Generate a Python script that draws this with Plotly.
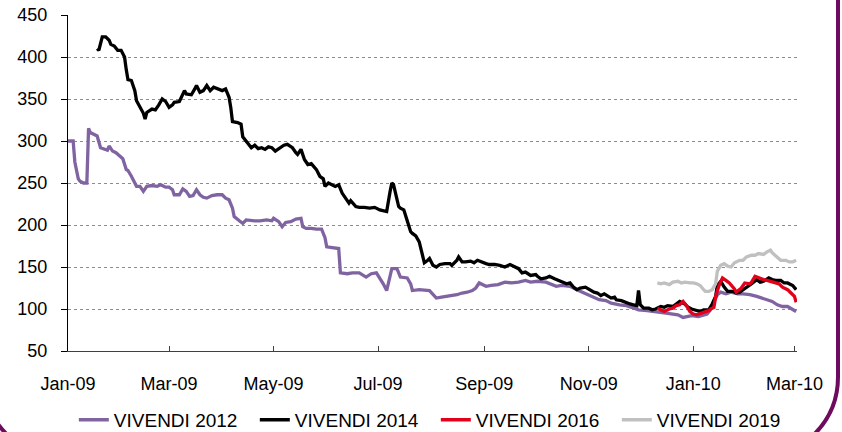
import plotly.graph_objects as go

# ---------------- data ----------------
dates_2012 = ["2009-01-01","2009-01-04","2009-01-05","2009-01-07","2009-01-08","2009-01-10","2009-01-12","2009-01-13",
              "2009-01-14","2009-01-17","2009-01-18","2009-01-20","2009-01-22","2009-01-24","2009-01-25","2009-01-27",
              "2009-01-29","2009-01-31","2009-02-02","2009-02-04","2009-02-05","2009-02-07","2009-02-09","2009-02-10",
              "2009-02-12","2009-02-14","2009-02-16","2009-02-19","2009-02-22","2009-02-24","2009-02-27","2009-03-01",
              "2009-03-03","2009-03-04","2009-03-07","2009-03-09","2009-03-11","2009-03-13","2009-03-15","2009-03-17",
              "2009-03-19","2009-03-21","2009-03-23","2009-03-26","2009-03-29","2009-04-01","2009-04-03","2009-04-05",
              "2009-04-07","2009-04-08","2009-04-11","2009-04-13","2009-04-15","2009-04-18","2009-04-20","2009-04-23",
              "2009-04-25","2009-04-27","2009-04-30","2009-05-01","2009-05-04","2009-05-06","2009-05-08","2009-05-11",
              "2009-05-14","2009-05-17","2009-05-18","2009-05-20","2009-05-23","2009-05-26","2009-05-29","2009-05-31",
              "2009-06-01","2009-06-05","2009-06-08","2009-06-09","2009-06-13","2009-06-16","2009-06-20","2009-06-24",
              "2009-06-27","2009-06-30","2009-07-02","2009-07-04","2009-07-06","2009-07-08","2009-07-09","2009-07-12",
              "2009-07-14","2009-07-18","2009-07-20","2009-07-21","2009-07-25","2009-07-31","2009-08-02","2009-08-04",
              "2009-08-07","2009-08-10","2009-08-13","2009-08-16","2009-08-19","2009-08-22","2009-08-25","2009-08-27",
              "2009-08-29","2009-09-01","2009-09-02","2009-09-05","2009-09-09","2009-09-13","2009-09-17","2009-09-21",
              "2009-09-25","2009-09-28","2009-10-02","2009-10-07","2009-10-10","2009-10-13","2009-10-16","2009-10-21",
              "2009-10-25","2009-10-28","2009-11-01","2009-11-04","2009-11-07","2009-11-11","2009-11-14","2009-11-19",
              "2009-11-23","2009-11-26","2009-11-30","2009-12-05","2009-12-08","2009-12-12","2009-12-16","2009-12-20",
              "2009-12-23","2009-12-26","2009-12-29","2009-12-31","2010-01-04","2010-01-06","2010-01-09","2010-01-11",
              "2010-01-13","2010-01-15","2010-01-17","2010-01-20","2010-01-23","2010-01-27","2010-01-30","2010-02-03",
              "2010-02-07","2010-02-10","2010-02-14","2010-02-16","2010-02-19","2010-02-22","2010-02-25","2010-02-27",
              "2010-03-02"]
values_2012 = [300,300,275,255,252,250,250,315,
               310,307,306,292,290,289,294,288,
               286,282,279,266,265,258,250,246,
               246,240,246,247,246,248,245,245,
               242,236,236,243,240,234,235,242,
               236,233,232,235,236,236,232,230,
               220,210,205,202,206,205,205,205,
               206,206,205,208,204,198,203,204,
               207,208,198,196,196,195,195,185,
               174,173,172,143,142,143,143,138,
               142,143,137,130,122,140,148,148,
               138,137,130,122,123,122,117,113,
               114,115,116,117,119,120,122,125,
               131,128,127,128,129,132,131,132,
               134,132,133,132,130,127,128,127,
               123,120,117,114,111,110,107,105,
               104,102,99,98,97,96,95,94,
               93,90,91,92,91,92,94,99,
               108,117,120,118,120,118,118,117,
               115,113,111,109,105,103,103,101,
               97]

dates_2014 = ["2009-01-18","2009-01-19","2009-01-21","2009-01-23","2009-01-25","2009-01-26","2009-01-28","2009-01-30",
              "2009-02-01","2009-02-03","2009-02-04","2009-02-05","2009-02-07","2009-02-09","2009-02-10","2009-02-12",
              "2009-02-14","2009-02-15","2009-02-16","2009-02-19","2009-02-21","2009-02-23","2009-02-25","2009-02-27",
              "2009-03-01","2009-03-03","2009-03-04","2009-03-07","2009-03-08","2009-03-10","2009-03-11","2009-03-14",
              "2009-03-16","2009-03-17","2009-03-19","2009-03-21","2009-03-23","2009-03-25","2009-03-27","2009-03-29",
              "2009-04-01","2009-04-03","2009-04-05","2009-04-06","2009-04-07","2009-04-10","2009-04-12","2009-04-13",
              "2009-04-15","2009-04-17","2009-04-18","2009-04-20","2009-04-22","2009-04-24","2009-04-26","2009-04-28",
              "2009-04-30","2009-05-02","2009-05-05","2009-05-07","2009-05-09","2009-05-12","2009-05-14","2009-05-15",
              "2009-05-17","2009-05-19","2009-05-21","2009-05-23","2009-05-26","2009-05-28","2009-05-30","2009-05-31",
              "2009-06-02","2009-06-04","2009-06-06","2009-06-08","2009-06-10","2009-06-12","2009-06-14","2009-06-15",
              "2009-06-18","2009-06-20","2009-06-23","2009-06-26","2009-06-29","2009-07-02","2009-07-05","2009-07-06",
              "2009-07-08","2009-07-09","2009-07-10","2009-07-12","2009-07-13","2009-07-14","2009-07-16","2009-07-18",
              "2009-07-20","2009-07-21","2009-07-23","2009-07-25","2009-07-26","2009-07-27","2009-07-28","2009-07-30",
              "2009-07-31","2009-08-02","2009-08-04","2009-08-06","2009-08-09","2009-08-12","2009-08-13","2009-08-16",
              "2009-08-17","2009-08-19","2009-08-21","2009-08-24","2009-08-26","2009-08-28","2009-08-30","2009-09-02",
              "2009-09-04","2009-09-07","2009-09-10","2009-09-13","2009-09-16","2009-09-19","2009-09-21","2009-09-23",
              "2009-09-25","2009-09-28","2009-10-01","2009-10-02","2009-10-04","2009-10-07","2009-10-09","2009-10-12",
              "2009-10-15","2009-10-17","2009-10-19","2009-10-21","2009-10-23","2009-10-25","2009-10-27","2009-10-30",
              "2009-11-02","2009-11-04","2009-11-06","2009-11-08","2009-11-10","2009-11-12","2009-11-14","2009-11-16",
              "2009-11-17","2009-11-20","2009-11-22","2009-11-25","2009-11-27","2009-11-29","2009-11-30","2009-12-01",
              "2009-12-03","2009-12-06","2009-12-08","2009-12-10","2009-12-13","2009-12-15","2009-12-17","2009-12-20",
              "2009-12-22","2009-12-24","2009-12-27","2009-12-29","2009-12-31","2010-01-03","2010-01-05","2010-01-07",
              "2010-01-10","2010-01-12","2010-01-14","2010-01-15","2010-01-17","2010-01-19","2010-01-21","2010-01-24",
              "2010-01-26","2010-01-28","2010-01-31","2010-02-02","2010-02-04","2010-02-07","2010-02-09","2010-02-11",
              "2010-02-14","2010-02-16","2010-02-18","2010-02-21","2010-02-23","2010-02-25","2010-02-28","2010-03-02"]
values_2014 = [410,408,424,424,420,415,413,408,
               408,400,385,373,372,360,348,340,
               333,326,334,338,337,343,350,347,
               340,343,346,347,352,360,356,355,
               362,366,358,360,366,360,364,362,
               360,362,352,340,323,322,320,305,
               300,296,292,295,291,292,290,293,
               292,288,292,295,296,292,286,284,
               290,278,272,273,266,258,255,246,
               250,248,246,248,238,232,226,229,
               222,221,221,220,221,218,216,216,
               240,250,248,230,222,220,218,205,
               192,190,187,180,172,162,155,158,
               160,152,150,153,154,154,152,158,
               162,156,156,157,155,158,156,154,
               153,153,152,150,153,150,148,143,
               144,140,141,139,136,137,139,136,
               133,132,130,131,126,123,125,126,
               122,120,119,116,118,115,113,114,
               111,110,108,106,105,104,122,105,
               101,101,99,100,103,102,104,103,
               106,109,106,102,100,98,97,99,
               99,106,115,128,133,126,121,121,
               119,120,124,127,130,135,132,133,
               137,135,134,134,131,131,128,123]

dates_2016 = ["2009-12-11","2009-12-13","2009-12-15","2009-12-18","2009-12-20","2009-12-22","2009-12-24","2009-12-26",
              "2009-12-28","2009-12-30","2010-01-01","2010-01-03","2010-01-05","2010-01-07","2010-01-10","2010-01-11",
              "2010-01-13","2010-01-14","2010-01-16","2010-01-18","2010-01-20","2010-01-22","2010-01-25","2010-01-26",
              "2010-01-29","2010-01-31","2010-02-03","2010-02-04","2010-02-06","2010-02-08","2010-02-11","2010-02-13",
              "2010-02-15","2010-02-18","2010-02-20","2010-02-22","2010-02-25","2010-02-27","2010-03-01","2010-03-02"]
values_2016 = [101,99,97,100,101,104,105,109,
               104,97,94,93,94,96,98,100,
               102,115,128,137,134,131,124,120,
               125,131,130,132,139,137,135,134,
               133,131,130,126,123,119,115,108]

dates_2019 = ["2009-12-11","2009-12-13","2009-12-15","2009-12-18","2009-12-20","2009-12-23","2009-12-25","2009-12-27",
              "2009-12-30","2010-01-01","2010-01-03","2010-01-05","2010-01-07","2010-01-08","2010-01-10","2010-01-12",
              "2010-01-14","2010-01-15","2010-01-17","2010-01-19","2010-01-21","2010-01-23","2010-01-25","2010-01-28",
              "2010-01-30","2010-02-01","2010-02-04","2010-02-06","2010-02-08","2010-02-11","2010-02-13","2010-02-15",
              "2010-02-16","2010-02-19","2010-02-21","2010-02-24","2010-02-26","2010-02-28","2010-03-02"]
values_2019 = [131,130,131,129,132,133,131,132,
               131,131,130,128,123,121,121,123,
               130,145,152,154,151,150,155,158,
               158,162,164,164,166,165,168,170,
               167,162,158,158,156,156,158]

series_names = ["VIVENDI 2012", "VIVENDI 2014", "VIVENDI 2016", "VIVENDI 2019"]
series_colors = ["#8064A2", "#000000", "#E3001B", "#C0C0C0"]
y_ticks = [50, 100, 150, 200, 250, 300, 350, 400, 450]

# ---------------- figure ----------------
W, H = 842, 432
PLOT_L, PLOT_R, PLOT_T, PLOT_B = 68, 797, 15, 351
ML, MR, MT, MB = PLOT_L, W - PLOT_R, PLOT_T, H - PLOT_B
FONT = "Liberation Sans, Arial, sans-serif"

fig = go.Figure()
for name, color, xs, ys in zip(series_names, series_colors,
                               [dates_2012, dates_2014, dates_2016, dates_2019],
                               [values_2012, values_2014, values_2016, values_2019]):
    fig.add_trace(go.Scatter(x=xs, y=ys, mode="lines", name=name,
                             line=dict(color=color, width=3.3)))

# decorative rounded frame (pixel -> paper conversion)
pw, ph = PLOT_R - PLOT_L, PLOT_B - PLOT_T
def px(x):
    return (x - PLOT_L) / pw
def py(y):
    return (PLOT_B - y) / ph

L, R, T, B, RAD = -17, 838, -20, 458, 81
k = 0.5523 * RAD
path = (f"M {px(L)},{py(T)} L {px(R)},{py(T)} L {px(R)},{py(B-RAD)} "
        f"C {px(R)},{py(B-RAD+k)} {px(R-RAD+k)},{py(B)} {px(R-RAD)},{py(B)} "
        f"L {px(L+RAD)},{py(B)} "
        f"C {px(L+RAD-k)},{py(B)} {px(L)},{py(B-RAD+k)} {px(L)},{py(B-RAD)} Z")
fig.add_shape(type="path", path=path, xref="paper", yref="paper", opacity=1,
              line=dict(color="#6E0B5F", width=4), fillcolor="rgba(0,0,0,0)")

fig.update_layout(
    template="simple_white",
    width=W, height=H,
    margin=dict(l=ML, r=MR, t=MT, b=MB, autoexpand=False),
    paper_bgcolor="white", plot_bgcolor="white",
    font=dict(family=FONT, size=18, color="#000000"),
    showlegend=True,
    legend=dict(orientation="h", x=0.008, xanchor="left", y=-0.205, yanchor="middle",
                font=dict(family=FONT, size=19, color="#000000"),
                entrywidth=136, entrywidthmode="pixels",
                bgcolor="rgba(0,0,0,0)", traceorder="normal"),
    xaxis=dict(type="date", range=["2009-01-01", "2010-03-02 12:00"],
               tick0="2009-01-01", dtick="M2", tickformat="%b-%y",
               showgrid=False, zeroline=False, mirror=False,
               showline=True, linecolor="#404040", linewidth=1,
               ticks="inside", ticklen=5, tickcolor="#404040",
               ticklabelstandoff=16,
               tickfont=dict(family=FONT, size=18, color="#000000")),
    yaxis=dict(range=[50, 450], tickvals=y_ticks, ticktext=[str(v) for v in y_ticks],
               showgrid=True, gridcolor="#8C8C8C", gridwidth=1, griddash="dot",
               zeroline=False, showline=True, linecolor="#000000", linewidth=1,
               ticks="outside", ticklen=6, tickcolor="#000000",
               ticklabelstandoff=10, ticklabeloverflow="allow",
               tickfont=dict(family=FONT, size=18, color="#000000")),
)

# remove the browser's default 8px body margin so the figure sits at the window origin
fig.write_html("out.html", config={"displayModeBar": False},
               post_script="document.body.style.margin='0px';")
